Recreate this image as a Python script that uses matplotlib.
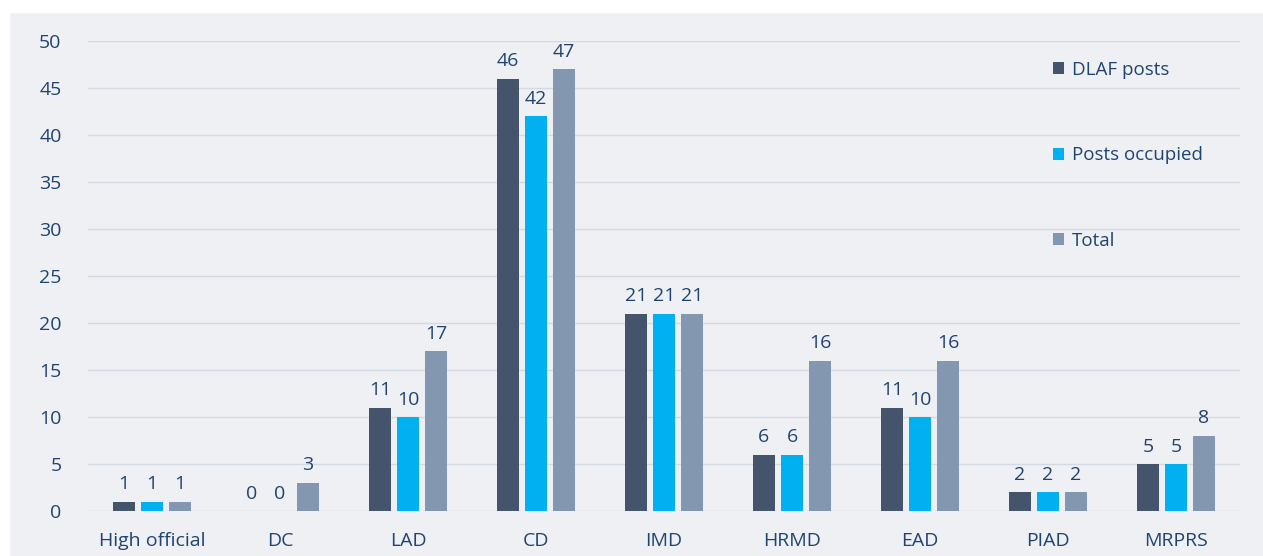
import numpy as np
import matplotlib.pyplot as plt
from matplotlib.patches import Rectangle

categories = ["High official", "DC", "LAD", "CD", "IMD", "HRMD", "EAD", "PIAD", "MRPRS"]
dlaf_posts = [1, 0, 11, 46, 21, 6, 11, 2, 5]
posts_occupied = [1, 0, 10, 42, 21, 6, 10, 2, 5]
total = [1, 3, 17, 47, 21, 16, 16, 2, 8]

series = [("DLAF posts", dlaf_posts, "#44546A"),
          ("Posts occupied", posts_occupied, "#00B0F0"),
          ("Total", total, "#8497B0")]

text_col = "#1F4470"
plt.rcParams['font.family'] = ['Open Sans', 'DejaVu Sans']

W, H = 1263, 556
fig = plt.figure(figsize=(W / 100, H / 100), dpi=100, facecolor="white")

# panel background with a soft shadow
for i, a in enumerate([0.03, 0.05, 0.08]):
    d = 3 - i
    fig.patches.append(Rectangle(((12 - d) / W, 0), 1, (H - 15 + d) / H,
                                 transform=fig.transFigure, color="#9aa0a8",
                                 alpha=a, zorder=-3, lw=0))
fig.patches.append(Rectangle((12 / W, 0), 1, (H - 15) / H, transform=fig.transFigure,
                             color="#EFF0F4", zorder=-2, lw=0))

ax = fig.add_axes([88 / W, (H - 511) / H, (1240 - 88) / W, (511 - 41) / H])
ax.set_facecolor("none")

x = np.arange(len(categories))
w = 0.172
step = 0.219
for k, (name, vals, col) in enumerate(series):
    pos = x + (k - 1) * step
    ax.bar(pos, vals, width=w, color=col, label=name, zorder=3)
    for xi, v in zip(pos, vals):
        ax.annotate(str(v), (xi, v), xytext=(0, 6), textcoords="offset points",
                    ha="center", va="bottom", fontsize=14, color=text_col)

ax.set_xlim(-0.5, len(categories) - 0.5)
ax.set_ylim(0, 50)
ax.set_yticks(np.arange(0, 51, 5))
ax.grid(axis="y", color="#D3DAE4", lw=1, zorder=0)
for s in ax.spines.values():
    s.set_visible(False)
ax.set_xticks(x)
ax.set_xticklabels(categories)
ax.tick_params(axis="both", length=0, labelsize=14, labelcolor=text_col)
ax.tick_params(axis="y", pad=19)
ax.tick_params(axis="x", pad=15)

leg = fig.legend(loc="upper left", bbox_to_anchor=(1036 / W, 1 - 44 / H),
                 frameon=False, fontsize=13.5, labelspacing=3.6,
                 handlelength=0.6, handleheight=0.6, handletextpad=0.4,
                 labelcolor=text_col)

fig.savefig("out.png", dpi=100, facecolor=fig.get_facecolor())
